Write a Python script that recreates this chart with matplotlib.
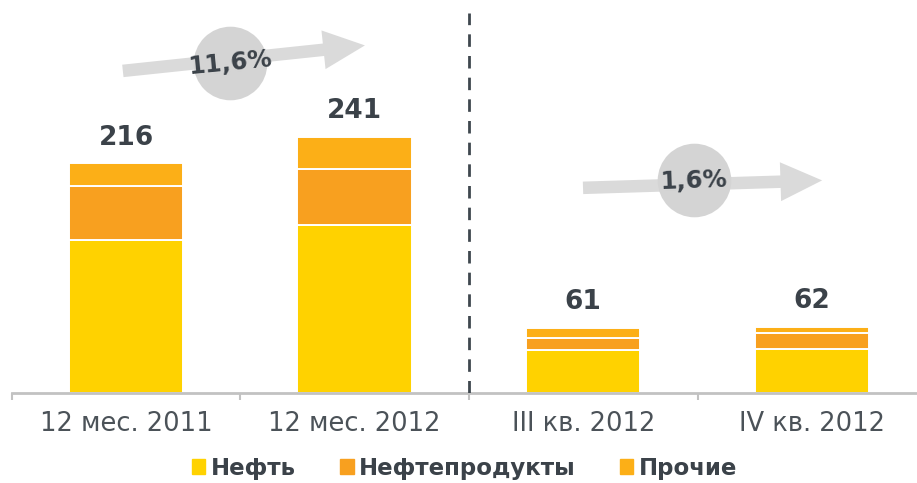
import matplotlib
matplotlib.use("Agg")
import matplotlib.pyplot as plt
from matplotlib.patches import Patch

# data
categories = ["12 мес. 2011", "12 мес. 2012", "III кв. 2012", "IV кв. 2012"]
oil = [144, 158, 40, 41]
products = [51, 53, 12, 15]
other = [21, 30, 9, 6]
totals = [216, 241, 61, 62]
series_names = ["Нефть", "Нефтепродукты", "Прочие"]

# growth arrows: (tail, tip, circle centre, label, text angle) in data units
growth_labels = ["11,6%", "1,6%"]
arrow_tails = [(-0.014, 303), (1.999, 193)]
arrow_tips = [(1.045, 327), (3.045, 200)]
circle_centres = [(0.454, 310), (2.484, 200)]
label_angles = [5.5, 2]

col_oil = "#FFD200"
col_prod = "#F8A01F"
col_other = "#FCAF17"
dark = "#3B4249"
grey_axis = "#C2C2C2"

fig = plt.figure(figsize=(9.17, 4.83), dpi=100)
ax = fig.add_axes([11.75 / 917, 90 / 483, 1 - 11.75 / 917, 393 / 483])

x = list(range(len(categories)))
w = 0.5
bottom2 = [a + b for a, b in zip(oil, products)]
ax.bar(x, oil, w, color=col_oil, edgecolor="white", linewidth=1.4)
ax.bar(x, products, w, bottom=oil, color=col_prod, edgecolor="white", linewidth=1.4)
ax.bar(x, other, w, bottom=bottom2, color=col_other, edgecolor="white", linewidth=1.4)

for xi, t in zip(x, totals):
    ax.annotate(str(t), (xi, t), xytext=(0, 13.5), textcoords="offset points",
                ha="center", va="baseline", fontsize=19, fontweight="bold", color=dark)

# separator between yearly and quarterly figures
ax.axvline(1.5, ymin=0, ymax=0.967, color="#3F474E", lw=2.0,
           linestyle=(0, (4.5, 3.3)), zorder=3)

# growth arrows with circles
for tail, tip, cc, lab, ang in zip(arrow_tails, arrow_tips, circle_centres,
                                   growth_labels, label_angles):
    ax.annotate("", xy=tip, xytext=tail,
                arrowprops=dict(arrowstyle="simple,head_length=30,head_width=28,tail_width=9",
                                mutation_scale=1, color="#DADADA", lw=0,
                                shrinkA=0, shrinkB=0), zorder=4)
    ax.plot(cc[0], cc[1], "o", markersize=53, color="#D4D4D4", mec="none", zorder=5)
    ax.text(cc[0], cc[1], lab, ha="center", va="center", rotation=ang,
            fontsize=17.5, fontweight="bold", color=dark, zorder=6)

ax.set_yticks([])
for s in ["left", "right", "top"]:
    ax.spines[s].set_visible(False)
ax.spines["bottom"].set_color(grey_axis)
ax.spines["bottom"].set_linewidth(2.0)

ax.set_xticks(x)
ax.set_xticklabels(categories, fontsize=18.5, color="#4B5258")
ax.tick_params(axis="x", which="major", length=0, pad=13)
ax.set_xticks([-0.5, 0.5, 1.5, 2.5, 3.5], minor=True)
ax.tick_params(axis="x", which="minor", length=5, width=1.5, color=grey_axis)

# limits after the ticks, otherwise set_xticks widens the view
ax.set_xlim(-0.5, 3.46)
ax.set_ylim(0, 393 / 1.063)

handles = [Patch(color=c) for c in (col_oil, col_prod, col_other)]
leg = fig.legend(handles, series_names, loc="center", bbox_to_anchor=(0.5066, 0.031),
                 ncol=3, frameon=False, handlelength=0.6, handleheight=0.6,
                 handletextpad=0.25, columnspacing=1.9,
                 prop={"size": 16.5, "weight": "bold"})
for t in leg.get_texts():
    t.set_color(dark)

fig.savefig("out.png", dpi=100)
